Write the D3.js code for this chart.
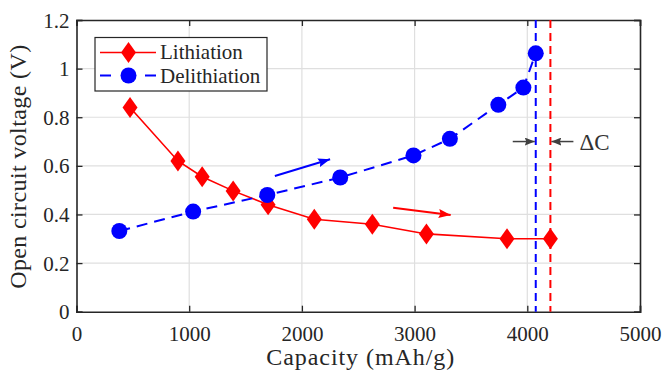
<!DOCTYPE html>
<html>
<head>
<meta charset="utf-8">
<script src="https://cdn.jsdelivr.net/npm/d3@7"></script>
<style>
  html, body { margin: 0; padding: 0; background: #fff; }
  svg { display: block; }
</style>
</head>
<body>
<svg id="chart" width="664" height="373"></svg>
<script>
// Open-circuit voltage vs. capacity
const capLith   = [475, 900, 1115, 1390, 1700, 2110, 2625, 3105, 3820, 4205];
const vLith     = [0.84, 0.62, 0.555, 0.497, 0.44, 0.38, 0.36, 0.32, 0.30, 0.30];
const capDelith = [380, 1035, 1693, 2340, 2990, 3313, 3743, 3965, 4075];
const vDelith   = [0.332, 0.412, 0.48, 0.552, 0.643, 0.711, 0.851, 0.922, 1.063];

const xTicks = [0, 1000, 2000, 3000, 4000, 5000];
const yTicks = [0, 0.2, 0.4, 0.6, 0.8, 1, 1.2];
const seriesNames = ["Lithiation", "Delithiation"];

// direction arrows [x0, y0, x1, y1] in data units
const arrowDelith = [1760, 0.558, 2250, 0.627];
const arrowLith   = [2810, 0.428, 3320, 0.398];
const deltaLabel = "ΔC";
const deltaLevel = 0.70;

const serif = '"Liberation Serif", "Times New Roman", serif';
const svg = d3.select("#chart").style("font-family", serif);
const L = 76.5, R = 640, T = 20, B = 311.7;
const x = d3.scaleLinear().domain([0, 5000]).range([L, R]);
const y = d3.scaleLinear().domain([0, 1.2]).range([B, T]);
const axisColor = "#262626";

// arrowheads
const defs = svg.append("defs");
function head(id, color, w, h) {
  defs.append("marker").attr("id", id)
    .attr("viewBox", `0 0 ${w} ${h}`).attr("refX", w).attr("refY", h / 2)
    .attr("markerWidth", w).attr("markerHeight", h)
    .attr("markerUnits", "userSpaceOnUse").attr("orient", "auto")
    .append("path").attr("d", `M0,0 L${w},${h / 2} L0,${h} L${w * 0.15},${h / 2} Z`).attr("fill", color);
}
head("hb", "#0000ff", 12, 9);
head("hr", "#ff0000", 12, 9);
head("hg", "#404040", 10, 8);

// grid
const grid = svg.append("g");
grid.selectAll("line.gx").data(xTicks.slice(1, -1)).join("line")
  .attr("x1", d => x(d)).attr("x2", d => x(d)).attr("y1", T).attr("y2", B)
  .attr("stroke", "#dfdfdf").attr("stroke-width", 1.2);
grid.selectAll("line.gy").data(yTicks.slice(1, -1)).join("line")
  .attr("x1", L).attr("x2", R).attr("y1", d => y(d)).attr("y2", d => y(d))
  .attr("stroke", "#dfdfdf").attr("stroke-width", 1.2);

// axes with inward ticks, box on all sides
const tk = 6;
const gxB = svg.append("g").attr("transform", `translate(0,${B})`)
  .call(d3.axisBottom(x).tickValues(xTicks).tickSize(-tk).tickPadding(14).tickFormat(d3.format("d")));
const gxT = svg.append("g").attr("transform", `translate(0,${T})`)
  .call(d3.axisTop(x).tickValues(xTicks).tickSize(-tk).tickFormat(""));
const gyL = svg.append("g").attr("transform", `translate(${L},0)`)
  .call(d3.axisLeft(y).tickValues(yTicks).tickSize(-tk).tickPadding(7).tickFormat(d => String(+d.toFixed(1))));
const gyR = svg.append("g").attr("transform", `translate(${R},0)`)
  .call(d3.axisRight(y).tickValues(yTicks).tickSize(-tk).tickFormat(""));
[gxB, gxT, gyL, gyR].forEach(g => {
  g.attr("font-family", serif).attr("font-size", 21);
  g.select(".domain").attr("stroke", axisColor).attr("stroke-width", 1.6);
  g.selectAll(".tick line").attr("stroke", axisColor).attr("stroke-width", 1.3);
  g.selectAll(".tick text").attr("fill", axisColor)
    .style("font-family", serif).style("font-size", "21px");
});
gyL.selectAll(".tick text").attr("dy", "0.34em");

// axis titles
svg.append("text").attr("x", (L + R) / 2 + 2).attr("y", 365)
  .attr("text-anchor", "middle").attr("fill", axisColor)
  .style("font-family", serif).style("font-size", "24px")
  .attr("textLength", 188).attr("lengthAdjust", "spacing")
  .text("Capacity (mAh/g)");
svg.append("text").attr("transform", `translate(26,${(T + B) / 2 + 1}) rotate(-90)`)
  .attr("text-anchor", "middle").attr("fill", axisColor)
  .style("font-family", serif).style("font-size", "24px")
  .attr("textLength", 244).attr("lengthAdjust", "spacing")
  .text("Open circuit voltage (V)");

// series
const lith = capLith.map((c, i) => [c, vLith[i]]);
const delith = capDelith.map((c, i) => [c, vDelith[i]]);
const line = d3.line().x(d => x(d[0])).y(d => y(d[1]));
const diamond = (cx, cy, w, h) => `M${cx},${cy - h} L${cx + w},${cy} L${cx},${cy + h} L${cx - w},${cy} Z`;

svg.append("path").attr("d", line(lith)).attr("fill", "none")
  .attr("stroke", "#ff0000").attr("stroke-width", 1.6);
svg.selectAll("path.dm").data(lith).join("path").attr("class", "dm")
  .attr("d", d => diamond(x(d[0]), y(d[1]), 7.5, 10.5)).attr("fill", "#ff0000");

svg.append("path").attr("d", line(delith)).attr("fill", "none")
  .attr("stroke", "#0000ff").attr("stroke-width", 2).attr("stroke-dasharray", "11,7");
svg.selectAll("circle.dl").data(delith).join("circle").attr("class", "dl")
  .attr("cx", d => x(d[0])).attr("cy", d => y(d[1])).attr("r", 8).attr("fill", "#0000ff");

// end-capacity markers
const capEndDelith = capDelith[capDelith.length - 1];
const capEndLith = capLith[capLith.length - 1];
svg.append("line").attr("x1", x(capEndDelith)).attr("x2", x(capEndDelith)).attr("y1", T).attr("y2", B)
  .attr("stroke", "#0000ff").attr("stroke-width", 2).attr("stroke-dasharray", "8,5");
svg.append("line").attr("x1", x(capEndLith)).attr("x2", x(capEndLith)).attr("y1", T).attr("y2", B)
  .attr("stroke", "#ff0000").attr("stroke-width", 2).attr("stroke-dasharray", "8,5");

// direction arrows
svg.append("line").attr("x1", x(arrowDelith[0])).attr("y1", y(arrowDelith[1]))
  .attr("x2", x(arrowDelith[2])).attr("y2", y(arrowDelith[3]))
  .attr("stroke", "#0000ff").attr("stroke-width", 2).attr("marker-end", "url(#hb)");
svg.append("line").attr("x1", x(arrowLith[0])).attr("y1", y(arrowLith[1]))
  .attr("x2", x(arrowLith[2])).attr("y2", y(arrowLith[3]))
  .attr("stroke", "#ff0000").attr("stroke-width", 2).attr("marker-end", "url(#hr)");

// ΔC annotation
const yd = y(deltaLevel);
svg.append("line").attr("x1", x(capEndDelith) - 23).attr("x2", x(capEndDelith) - 1)
  .attr("y1", yd).attr("y2", yd).attr("stroke", "#404040").attr("stroke-width", 1.5).attr("marker-end", "url(#hg)");
svg.append("line").attr("x1", x(capEndLith) + 23).attr("x2", x(capEndLith) + 1)
  .attr("y1", yd).attr("y2", yd).attr("stroke", "#404040").attr("stroke-width", 1.5).attr("marker-end", "url(#hg)");
svg.append("text").attr("x", x(capEndLith) + 29).attr("y", yd + 8)
  .style("font-family", serif).style("font-size", "23px").attr("fill", "#333").text(deltaLabel);

// legend
const lg = svg.append("g");
lg.append("rect").attr("x", 95).attr("y", 37.5).attr("width", 172).attr("height", 53.5)
  .attr("fill", "#fff").attr("stroke", axisColor).attr("stroke-width", 1.2);
lg.append("line").attr("x1", 100).attr("x2", 156).attr("y1", 52.5).attr("y2", 52.5)
  .attr("stroke", "#ff0000").attr("stroke-width", 1.6);
lg.append("path").attr("d", diamond(128.5, 52.5, 7.5, 10.5)).attr("fill", "#ff0000");
lg.append("line").attr("x1", 100).attr("x2", 156).attr("y1", 75.5).attr("y2", 75.5)
  .attr("stroke", "#0000ff").attr("stroke-width", 2).attr("stroke-dasharray", "11,34");
lg.append("circle").attr("cx", 128.5).attr("cy", 75.5).attr("r", 8).attr("fill", "#0000ff");
lg.selectAll("text").data(seriesNames).join("text")
  .attr("x", 160).attr("y", (d, i) => 59 + i * 23.5).attr("fill", axisColor)
  .style("font-family", serif).style("font-size", "21px").text(d => d);
</script>
</body>
</html>
